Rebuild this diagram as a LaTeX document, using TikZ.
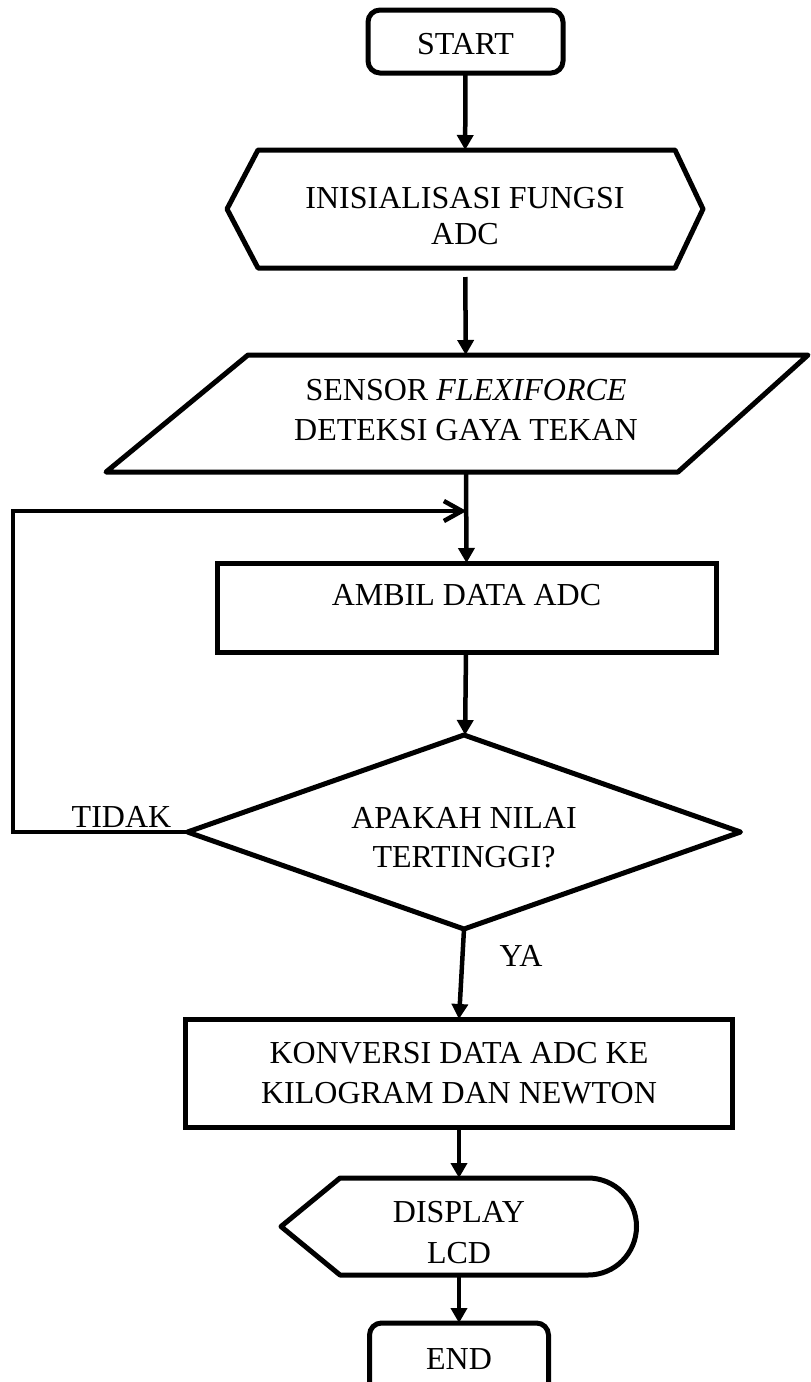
\documentclass[tikz,border=0pt]{standalone}
\usepackage{fontspec}
\setmainfont{Liberation Serif}
\usetikzlibrary{arrows.meta,shapes.geometric}
\begin{document}
\begin{tikzpicture}[x=1pt,y=-1pt,
  every node/.style={font=\fontsize{32}{40}\selectfont, align=center, inner sep=0pt, outer sep=0pt},
  procbox/.style={draw, line width=5pt, rectangle},
  termbox/.style={draw, line width=5pt, rounded corners=12pt, minimum height=63pt},
  outline/.style={draw, line width=5pt, line join=round},
  ghost/.style={draw=none},
  flow/.style={line width=4.5pt, -{Triangle[length=15pt,width=16pt]}},
  loopflow/.style={line width=4.5pt, -{Straight Barb[length=18pt,width=20pt,line width=4.5pt]}},
  lbl/.style={inner sep=0pt}
]
\path[use as bounding box, clip] (0,0) rectangle (811,1382);

% START
\node[termbox, minimum width=195pt, text height=26pt, text depth=0pt] (start) at (465.5,41.5) {START};

% INISIALISASI (hexagon)
\node[ghost, minimum width=476pt, minimum height=118pt, font=\fontsize{32}{36.5}\selectfont,
      text height=71pt, text depth=0pt] (init) at (465,209) {INISIALISASI FUNGSI\\ADC};
\draw[outline] (227,209) -- (258,150) -- (675,150) -- (703,209) -- (675,268) -- (258,268) -- cycle;

% SENSOR (parallelogram)
\node[ghost, minimum width=300pt, minimum height=117pt, text height=54pt, text depth=0pt] (sensor) at (466,413.5) {SENSOR \textit{FLEXIFORCE}\\DETEKSI GAYA TEKAN};
\draw[outline] (248,355) -- (808,355) -- (678,472) -- (106,472) -- cycle;

% AMBIL DATA ADC
\node[procbox, minimum width=499pt, minimum height=89pt, text height=22pt, text depth=26pt] (ambil) at (466.5,607.5) {AMBIL DATA ADC};

% DECISION (diamond)
\node[ghost, minimum width=553pt, minimum height=194pt, font=\fontsize{32}{39}\selectfont,
      text height=71pt, text depth=0pt] (dec) at (464,832) {APAKAH NILAI\\TERTINGGI?};
\draw[outline] (dec.west) -- (dec.north) -- (dec.east) -- (dec.south) -- cycle;

% KONVERSI
\node[procbox, minimum width=547pt, minimum height=108pt] (konv) at (459,1073) {KONVERSI DATA ADC KE\\KILOGRAM DAN NEWTON};

% DISPLAY
\node[ghost, minimum width=200pt, minimum height=97pt, font=\fontsize{32}{41}\selectfont,
      text height=74pt, text depth=0pt] (disp) at (459,1226.5) {DISPLAY\\LCD};
\draw[outline] (340,1178) -- (588,1178) arc[start angle=90, end angle=-90, radius=48.5pt] -- (340,1275) -- (281,1226.5) -- cycle;

% END
\node[termbox, minimum width=179pt, minimum height=72pt] (end) at (459,1359) {END};

% connectors
\draw[flow] (start) -- (init);
\draw[flow, shorten <=9pt] (init) -- (sensor);
\path (ambil.north) ++(0,-52) coordinate (merge);
\draw[flow] (sensor.south) -- (ambil.north);
\draw[flow] (ambil) -- (dec);
\draw[loopflow] (dec.west) -- ++(-174.5,0) |- (merge);
\draw[flow] (dec.south) -- (konv.north);
\draw[flow] (konv) -- (disp);
\draw[flow] (disp) -- (end);

% labels
\node[lbl] (tidak) at (121.5,817) {TIDAK};
\node[lbl] (ya) at (521,956) {YA};
\end{tikzpicture}
\end{document}
